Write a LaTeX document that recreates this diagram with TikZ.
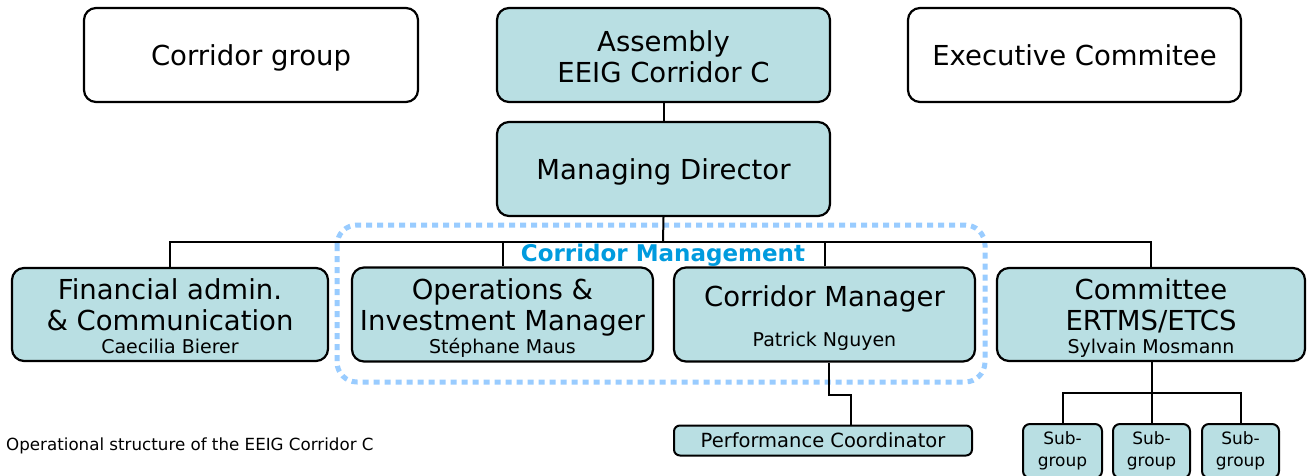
\documentclass[tikz,border=0pt]{standalone}
\usepackage{fontspec}
\setmainfont{DejaVu Sans}
\usetikzlibrary{calc,positioning}

\definecolor{boxfill}{RGB}{185,223,227}
\definecolor{cmblue}{RGB}{0,155,222}
\definecolor{framecol}{RGB}{153,204,255}
\newcommand{\bigtxt}{\fontsize{27.5}{31}\selectfont}
\newcommand{\nametxt}{\fontsize{19}{22}\selectfont}
\newcommand{\smalltxt}{\fontsize{19.5}{22}\selectfont}
\newcommand{\subtxt}{\fontsize{17}{22}\selectfont}
% struts so that every box puts its text at the same height
\newcommand{\onestrut}{\rule[-7pt]{0pt}{35pt}}
\newcommand{\topstrut}{\rule{0pt}{31pt}}
\newcommand{\botstrut}{\rule[-7pt]{0pt}{7pt}}

\begin{document}
\begin{tikzpicture}[
        %Pixel units, y going down
        x=1pt, y=-1pt,
        box/.style={draw=black, line width=2.2pt, rounded corners=12pt, fill=boxfill,
                    inner sep=0pt, align=center, font=\bigtxt},
        white box/.style={box, fill=white},
        small box/.style={box, line width=2pt, rounded corners=7pt, font=\subtxt},
        link/.style={line width=2pt},
        frame line/.style={draw=framecol, line width=5pt, dash pattern=on 6pt off 5pt,
                    rounded corners=20pt},
        every node/.style={color=black}
     ]
    \clip (0,0) rectangle (1307,476);
    \fill[white] (0,0) rectangle (1307,476);

    % Top row
    \node[white box, minimum width=334pt, minimum height=94pt] (group) at (251,55) {\onestrut Corridor group};
    \node[box, minimum width=333pt, minimum height=94pt] (assembly) at (663.5,55)
        {\topstrut Assembly\\ EEIG Corridor C\botstrut};
    \node[white box, minimum width=333pt, minimum height=94pt] (exec) at (1074.5,55) {\onestrut Executive Commitee};
    \node[box, minimum width=333pt, minimum height=94pt] (md) at (663.5,169) {\onestrut Managing Director};

    % Corridor management frame
    \draw[frame line] (337,225) rectangle (985,382);
    \node[font=\fontsize{23}{26}\selectfont\bfseries, text=cmblue] (cmlabel) at (663,255) {Corridor Management};

    % Second row
    \node[box, minimum width=316pt, minimum height=93pt] (fin) at (170,314.5)
        {\topstrut Financial admin.\\ \& Communication\\[-8pt] {\nametxt Caecilia Bierer}\botstrut};
    \node[box, minimum width=301pt, minimum height=94pt] (ops) at (502.5,314.5)
        {\topstrut Operations \&\\ Investment Manager\\[-8pt] {\nametxt Stéphane Maus}\botstrut};
    \node[box, minimum width=301pt, minimum height=94pt] (cm) at (824.5,314.5)
        {\topstrut Corridor Manager\\[9pt] {\nametxt Patrick Nguyen}\botstrut};
    \node[box, minimum width=308pt, minimum height=93pt] (com) at (1151,314.5)
        {\topstrut Committee\\ ERTMS/ETCS\\[-8pt] {\nametxt Sylvain Mosmann}\botstrut};

    % Third row
    \node[small box, rounded corners=6pt, minimum width=298pt, minimum height=30pt,
          font=\smalltxt] (perf) at (823,440.5) {Performance Coordinator};
    \node[small box, minimum width=79pt, minimum height=54pt] (sub1) at (1062.5,451) {Sub-\\group};
    \node[small box, minimum width=77pt, minimum height=54pt] (sub2) at (1151.5,451) {Sub-\\group};
    \node[small box, minimum width=77pt, minimum height=54pt] (sub3) at (1240.5,451) {Sub-\\group};

    % Caption
    \node[anchor=west, font=\fontsize{16.7}{19}\selectfont, inner sep=0pt] (caption) at (6,446)
        {Operational structure of the EEIG Corridor C};

    % Connectors
    \coordinate (bus) at (663,242);
    \coordinate (subbus) at (1152,393);
    \draw[link] (assembly) -- (md);
    \draw[link] (md.south) -- (bus);
    \draw[link] (fin.north) |- (bus);
    \draw[link] (ops.north) |- (bus);
    \draw[link] (cm.north) |- (bus);
    \draw[link] (com.north) |- (bus);
    \draw[link] ([xshift=4pt]cm.south) -- ++(0,32) -| ([xshift=28pt]perf.north);
    \draw[link] (com.south -| subbus) -- (subbus);
    \draw[link] (sub1.north) |- (subbus);
    \draw[link] (sub3.north) |- (subbus);
    \draw[link] (sub2.north -| subbus) -- (subbus);
\end{tikzpicture}
\end{document}
